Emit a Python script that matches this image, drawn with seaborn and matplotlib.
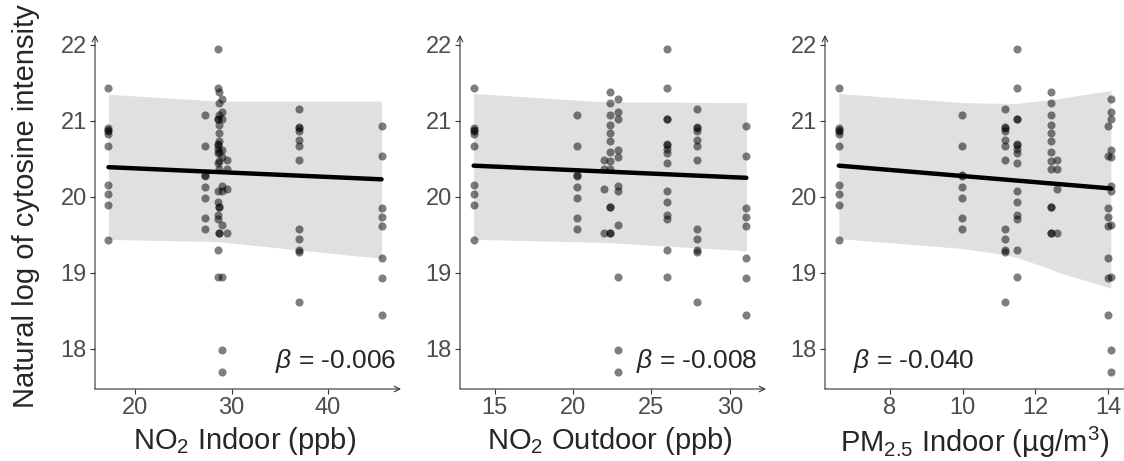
import numpy as np
import pandas as pd
import seaborn as sns
import matplotlib.pyplot as plt

sns.set_style('ticks')
plt.rcParams['font.family'] = ['Liberation Sans', 'DejaVu Sans']
plt.rcParams['mathtext.fontset'] = 'custom'
plt.rcParams['mathtext.rm'] = 'Liberation Sans'
plt.rcParams['mathtext.it'] = 'Liberation Sans:italic'

# measured values (natural log of cytosine intensity), grouped by household
grp_a = [21.43, 20.90, 20.88, 20.87, 20.83, 20.67, 20.15, 20.04, 19.89, 19.43]
grp_b = [21.08, 20.67, 20.29, 20.27, 20.13, 19.99, 19.72, 19.58]
grp_c = [21.16, 20.92, 20.90, 20.86, 20.75, 20.67, 20.48, 19.57, 19.44, 19.30, 19.27, 18.62]
grp_d = [21.94, 21.43, 21.03, 21.03, 20.70, 20.68, 20.63, 20.58, 20.45, 20.07, 19.93,
         19.76, 19.71, 19.30, 18.94]
grp_e = [21.38, 21.24, 21.08, 20.95, 20.84, 20.73, 20.59, 20.47, 20.37, 19.87, 19.87,
         19.53, 19.53]
grp_f = [20.49, 20.37, 20.10, 19.53]
grp_g = [21.29, 21.11, 21.02, 20.62, 20.53, 20.14, 20.07, 19.63, 18.94, 17.98, 17.69]
grp_h = [20.93, 20.54, 19.85, 19.74, 19.61, 19.20, 18.93, 18.45]
groups = [grp_a, grp_b, grp_c, grp_d, grp_e, grp_f, grp_g, grp_h]

# exposure of each group, one list per pollutant (same group order)
no2_in = [17.2, 27.2, 37.0, 28.55, 28.65, 29.5, 29.0, 45.6]
no2_out = [13.66, 20.28, 27.92, 26.0, 22.38, 21.98, 22.89, 31.06]
pm25_in = [6.59, 9.98, 11.16, 11.5, 12.42, 12.6, 14.08, 13.99]

# fitted line and confidence band
fit1_x = [17.2, 45.6]
fit1_y = [20.39, 20.23]
band1_x = [17.2, 28.6, 37.0, 45.6]
band1_lo = [19.44, 19.41, 19.30, 19.19]
band1_hi = [21.35, 21.26, 21.26, 21.26]

fit2_x = [13.66, 31.06]
fit2_y = [20.41, 20.25]
band2_x = [13.66, 22.0, 31.06]
band2_lo = [19.44, 19.40, 19.29]
band2_hi = [21.36, 21.25, 21.24]

fit3_x = [6.59, 14.08]
fit3_y = [20.41, 20.11]
band3_x = [6.59, 9.98, 11.16, 11.5, 12.42, 12.6, 14.08]
band3_lo = [19.45, 19.32, 19.24, 19.20, 19.05, 19.01, 18.80]
band3_hi = [21.36, 21.24, 21.23, 21.23, 21.28, 21.29, 21.40]

betas = ['-0.006', '-0.008', '-0.040']
xlabels = ['NO$_2$ Indoor (ppb)', 'NO$_2$ Outdoor (ppb)',
           'PM$_{2.5}$ Indoor (\u00b5g/m$^3$)']
xticks = [[20, 30, 40], [15, 20, 25, 30], [8, 10, 12, 14]]
xlims = [(15.8, 47.0), (12.79, 31.93), (6.21, 14.47)]

fig = plt.figure(figsize=(11.24, 4.61), dpi=100)
lefts = [95 / 1124, 460 / 1124, 825 / 1124]

panels = [
    (no2_in, fit1_x, fit1_y, band1_x, band1_lo, band1_hi),
    (no2_out, fit2_x, fit2_y, band2_x, band2_lo, band2_hi),
    (pm25_in, fit3_x, fit3_y, band3_x, band3_lo, band3_hi),
]

for i, (expo, fx, fy, bx, blo, bhi) in enumerate(panels):
    ax = fig.add_axes([lefts[i], 72 / 461, 300 / 1124, 354 / 461])
    xs, ys = [], []
    for e, g in zip(expo, groups):
        xs += [e] * len(g)
        ys += g
    df = pd.DataFrame({'x': xs, 'y': ys})

    ax.fill_between(bx, blo, bhi, color='#e0e0e0', lw=0, zorder=1)
    sns.scatterplot(data=df, x='x', y='y', ax=ax, color='black', alpha=0.5,
                    s=34, linewidth=0, zorder=2)
    sns.lineplot(x=fx, y=fy, ax=ax, color='black', lw=3.2, zorder=3)

    ax.set_xlim(*xlims[i])
    ax.set_ylim(17.47, 22.13)
    ax.set_xticks(xticks[i])
    ax.set_yticks([18, 19, 20, 21, 22])
    ax.tick_params(labelsize=17, labelcolor='#4d4d4d', color='#333333',
                   length=3.5, width=0.8, pad=2.5)
    ax.set_xlabel(xlabels[i], fontsize=21, labelpad=4)
    ax.set_ylabel('')
    for s in ax.spines.values():
        s.set_visible(False)
    ax.annotate('', xy=(1.02, 0), xytext=(0, 0), xycoords='axes fraction',
                arrowprops=dict(arrowstyle='->', lw=0.8, color='#333333',
                                shrinkA=0, shrinkB=0), annotation_clip=False)
    ax.annotate('', xy=(0, 1.0), xytext=(0, 0), xycoords='axes fraction',
                arrowprops=dict(arrowstyle='->', lw=0.8, color='#333333',
                                shrinkA=0, shrinkB=0), annotation_clip=False)

    txt = r'$\beta$ = ' + betas[i]
    if i < 2:
        ax.text(1.003 if i == 0 else 0.99, 0.08, txt, transform=ax.transAxes,
                ha='right', va='center', fontsize=19)
    else:
        ax.text(0.093, 0.08, txt, transform=ax.transAxes, ha='left',
                va='center', fontsize=19)

fig.text(0.023, 0.553, 'Natural log of cytosine intensity', rotation=90,
         ha='center', va='center', fontsize=21)

fig.savefig('out.png', dpi=100)
